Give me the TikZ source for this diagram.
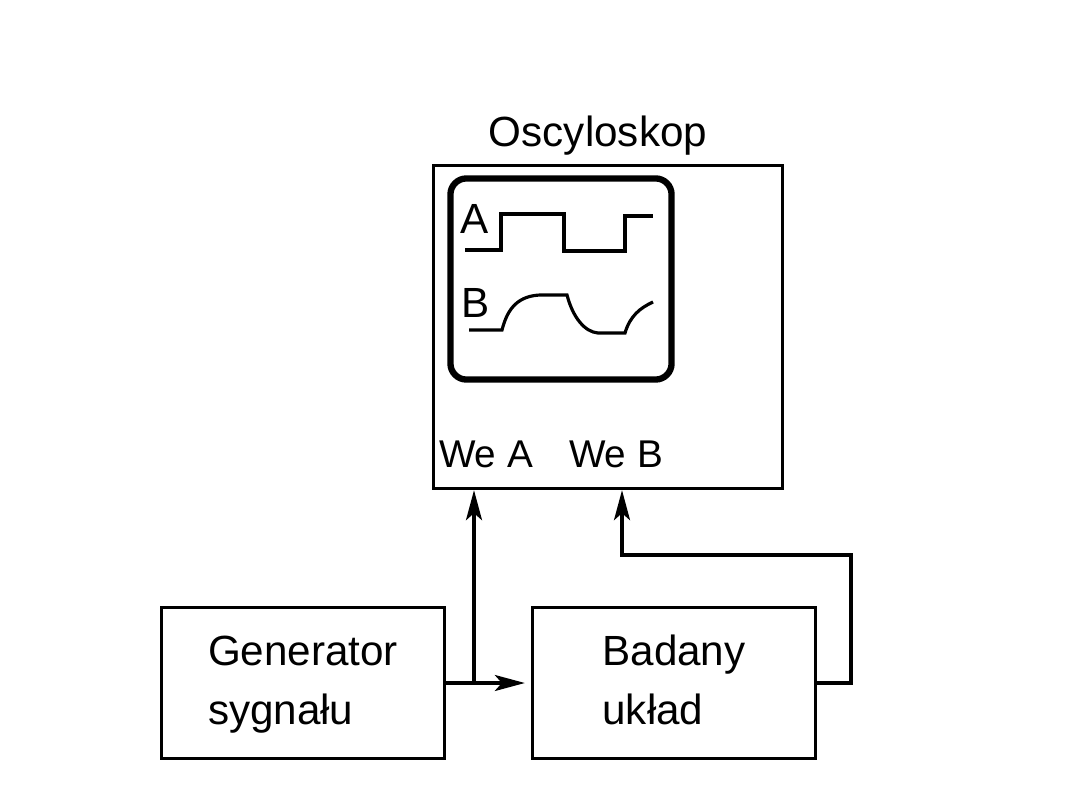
\documentclass[tikz,border=0pt]{standalone}
\usepackage{fontspec}
\setmainfont{Liberation Sans}
\usetikzlibrary{arrows.meta,positioning,calc}
\tikzset{
  block/.style={draw, line width=0.9pt, minimum width=2.83cm, minimum height=1.51cm,
                inner sep=0pt, align=left, font=\fontsize{12}{17}\selectfont},
  screenbox/.style={draw, line width=1.8pt, rounded corners=0.16cm,
                minimum width=2.21cm, minimum height=2.01cm, inner sep=0pt},
  lbl/.style={font=\fontsize{12}{14}\selectfont, inner sep=0pt},
  trace/.style={line width=0.9pt},
  flow/.style={-{Stealth[length=3mm,width=1.6mm,inset=0.7mm]}, line width=0.9pt},
}
\begin{document}
\begin{tikzpicture}[x=0.01cm,y=-0.01cm]
  \useasboundingbox (0,0) rectangle (1080,810);

  % blocks
  \node[block] (gen) at (303,683) {Generator\strut\\sygnału\strut};
  \node[block] (dut) at (674,683) {Badany\strut\\układ\strut};
  \node[block, minimum width=3.48cm, minimum height=3.23cm] (osc) at (608,327) {};
  \node[lbl, anchor=base] (title) at (598,147) {Oscyloskop};

  % screen with both traces
  \node[screenbox] (screen) at (561,279) {};
  \node[lbl] (labA) at (475,219) {A};
  \node[lbl] (labB) at (476,303) {B};
  \draw[trace] (465,250) -- (501,250) -- (501,214) -- (564,214) -- (564,251)
    -- (625,251) -- (625,216) -- (653,216);
  \draw[trace] (469,330) -- (502,330)
    .. controls (508,306) and (520,296) .. (540,295) -- (567,295)
    .. controls (573,318) and (585,332) .. (598,333) -- (625,333)
    .. controls (630,316) and (640,308) .. (653,302);

  % inputs
  \node[lbl, font=\fontsize{11}{14}\selectfont, anchor=base] (weA) at (486,467) {We A};
  \node[lbl, font=\fontsize{11}{14}\selectfont, anchor=base] (weB) at (616,467) {We B};

  % connections
  \coordinate (j) at (474,683);
  \coordinate (bend) at (851,555);
  \coordinate (bendB) at (622,555);
  \draw[flow, shorten >=0.06cm] (gen.east) -- (dut.west);
  \draw[flow] (j) -- (j |- osc.south);
  \draw[flow] (dut.east) -| (bend) -- (bendB) -- (bendB |- osc.south);
\end{tikzpicture}
\end{document}
